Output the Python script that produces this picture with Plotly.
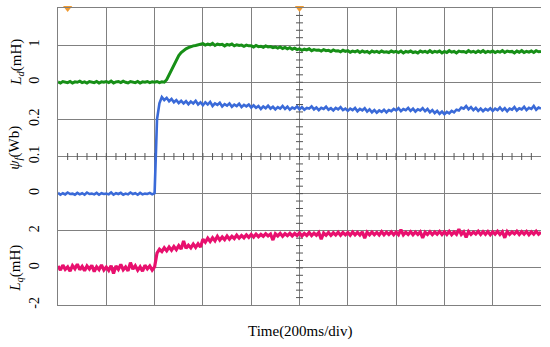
import plotly.graph_objects as go

# sample times in divisions (200 ms/div), 0.05 div spacing
N_DIV = 10
t = [round(i * 0.05, 2) for i in range(201)]

# L_d (mH)
ld = [0.01,-0.02,0.02,0.0,-0.01,0.02,-0.02,0.01,0.0,0.03,-0.01,0.01,-0.02,0.02,0.0,-0.01,0.02,-0.02,0.01,0.0,
      0.02,-0.01,0.03,-0.02,0.01,0.02,-0.01,0.03,0.0,-0.02,0.02,0.01,-0.01,0.02,-0.02,0.01,0.0,0.02,-0.01,0.01,
      0.0,0.02,-0.01,0.01,0.0,0.07,0.2,0.35,0.5,0.62,0.72,0.8,0.86,0.9,0.93,0.96,0.98,0.99,1.01,1.02,
      1.04,1.0,1.03,1.01,1.05,0.99,1.03,1.01,1.02,0.98,1.02,1.0,1.03,0.98,1.01,0.99,1.0,0.97,1.0,0.98,
      0.98,0.95,0.99,0.96,0.97,0.94,0.98,0.95,0.96,0.93,0.95,0.92,0.95,0.91,0.94,0.9,0.93,0.89,0.92,0.88,
      0.9,0.86,0.89,0.87,0.9,0.85,0.88,0.86,0.87,0.84,0.88,0.85,0.86,0.83,0.87,0.84,0.85,0.82,0.86,0.83,
      0.85,0.81,0.84,0.82,0.85,0.8,0.84,0.81,0.83,0.79,0.84,0.81,0.83,0.8,0.84,0.81,0.82,0.8,0.84,0.81,
      0.83,0.8,0.84,0.79,0.83,0.81,0.84,0.8,0.82,0.79,0.84,0.81,0.83,0.8,0.85,0.8,0.83,0.81,0.84,0.79,
      0.83,0.8,0.85,0.81,0.83,0.79,0.84,0.82,0.83,0.8,0.85,0.81,0.83,0.8,0.84,0.81,0.85,0.8,0.83,0.81,
      0.84,0.8,0.83,0.81,0.85,0.8,0.84,0.82,0.83,0.79,0.84,0.81,0.85,0.8,0.83,0.81,0.84,0.8,0.85,0.82,0.83]

# psi_f (Wb)
psi = [0.002,-0.003,0.001,-0.002,0.003,-0.001,0.0,-0.003,0.002,-0.002,0.001,-0.003,0.003,-0.001,0.0,-0.002,0.002,-0.003,0.001,-0.001,
       0.0,-0.002,0.003,-0.003,0.001,-0.001,0.002,-0.003,0.0,-0.002,0.003,-0.001,0.001,-0.003,0.002,-0.002,0.0,-0.001,0.002,-0.002,
       0.001,0.2,0.243,0.26,0.252,0.258,0.249,0.255,0.246,0.252,0.244,0.25,0.243,0.249,0.241,0.248,0.243,0.25,0.24,0.246,
       0.238,0.246,0.24,0.247,0.236,0.243,0.239,0.245,0.235,0.241,0.237,0.243,0.234,0.24,0.236,0.242,0.233,0.239,0.235,0.24,
       0.232,0.238,0.231,0.236,0.228,0.235,0.23,0.237,0.229,0.234,0.227,0.233,0.229,0.236,0.228,0.234,0.226,0.232,0.229,0.235,
       0.227,0.233,0.226,0.231,0.229,0.235,0.227,0.232,0.225,0.231,0.228,0.234,0.226,0.23,0.224,0.231,0.227,0.233,0.225,0.229,
       0.223,0.229,0.225,0.231,0.222,0.228,0.224,0.23,0.221,0.227,0.219,0.225,0.218,0.224,0.22,0.226,0.219,0.225,0.222,0.228,
       0.224,0.23,0.222,0.228,0.225,0.231,0.223,0.229,0.221,0.227,0.224,0.23,0.222,0.228,0.219,0.225,0.217,0.223,0.215,0.221,
       0.214,0.22,0.216,0.223,0.219,0.226,0.224,0.232,0.229,0.236,0.227,0.233,0.225,0.231,0.223,0.229,0.222,0.228,0.224,0.23,
       0.223,0.229,0.225,0.232,0.224,0.23,0.222,0.229,0.226,0.233,0.224,0.23,0.227,0.234,0.225,0.231,0.228,0.236,0.226,0.232,0.229]

# L_q (mH)
lq = [0.1,-0.12,0.15,-0.08,0.05,-0.18,0.12,-0.05,0.2,-0.1,0.08,-0.15,0.1,-0.06,0.14,-0.2,0.06,-0.09,0.16,-0.12,
      0.04,-0.14,0.12,-0.3,0.1,-0.08,0.18,-0.1,0.05,-0.16,0.28,-0.07,0.11,-0.13,0.06,-0.18,0.14,-0.05,0.1,-0.12,
      0.05,0.8,1.0,0.88,1.08,0.92,1.12,0.95,1.15,0.98,1.2,1.02,1.45,1.05,1.22,1.08,1.28,1.1,1.3,1.12,
      1.55,1.38,1.6,1.42,1.62,1.46,1.7,1.5,1.66,1.52,1.72,1.55,1.7,1.58,1.76,1.6,1.74,1.62,1.78,1.64,
      1.8,1.66,1.82,1.68,1.8,1.7,1.84,1.72,1.82,1.5,1.84,1.72,1.86,1.7,1.84,1.74,1.86,1.72,1.85,1.74,
      1.88,1.72,1.86,1.75,1.9,1.74,1.87,1.76,1.9,1.55,1.88,1.76,1.91,1.75,1.89,1.77,1.92,1.76,1.9,1.78,
      1.9,1.76,1.93,1.78,1.91,1.77,1.94,1.6,1.92,1.78,1.93,1.79,1.91,1.77,1.95,1.78,1.92,1.8,1.94,1.78,
      1.93,1.79,2.05,1.78,1.92,1.8,1.95,1.78,1.93,1.8,1.94,1.62,1.92,1.8,1.95,1.79,1.93,1.81,1.96,1.8,
      1.94,1.8,1.97,1.79,1.93,1.81,2.08,1.8,1.94,1.64,1.96,1.8,1.93,1.82,1.97,1.8,1.95,1.81,1.96,1.79,
      1.94,1.82,1.97,1.8,1.95,1.62,1.96,1.81,1.94,1.83,1.97,1.8,1.95,1.82,1.96,1.79,1.94,1.82,1.97,1.81,1.92]

# axis settings: ranges chosen so each channel's zero sits on its grid line
N_VDIV = 8
ld_range = [-6, 2]
psi_range = [-0.3, 0.5]
lq_range = [-2, 14]
ld_ticks, ld_text = [0, 1], ["0", "1"]
psi_ticks, psi_text = [0, 0.1, 0.2], ["0", "0.1", "0.2"]
lq_ticks, lq_text = [-2, 0, 2], ["-2", "0", "2"]

trigger_t = [0.2, 5.0]

FONT = "Liberation Serif"
GRID = "#808080"

fig = go.Figure()

fig.add_trace(go.Scatter(x=t, y=ld, mode="lines", line=dict(color="#178f17", width=3), yaxis="y2"))
fig.add_trace(go.Scatter(x=t, y=psi, mode="lines", line=dict(color="#3a6ad8", width=2.6), yaxis="y3"))
fig.add_trace(go.Scatter(x=t, y=lq, mode="lines", line=dict(color="#e8106e", width=3.2), yaxis="y4"))

# minor ticks on centre cross-hair
sub = [round(k * 0.2, 1) for k in range(1, N_DIV * 5)]
fig.add_trace(go.Scatter(x=sub, y=[N_VDIV / 2] * len(sub), mode="markers",
                         marker=dict(symbol="line-ns", size=5, line=dict(color="#555555", width=1)),
                         yaxis="y"))
subv = [round(k * 0.2, 1) for k in range(1, N_VDIV * 5)]
fig.add_trace(go.Scatter(x=[N_DIV / 2] * len(subv), y=subv, mode="markers",
                         marker=dict(symbol="line-ew", size=5, line=dict(color="#555555", width=1)),
                         yaxis="y"))
# trigger markers
fig.add_trace(go.Scatter(x=trigger_t, y=[N_VDIV] * len(trigger_t), mode="markers",
                         marker=dict(symbol="triangle-down", size=8, color="#f09a30"),
                         yaxis="y", cliponaxis=False))

common_y = dict(overlaying="y", side="left", showgrid=False, zeroline=False, ticks="",
                tickangle=-90, tickfont=dict(family=FONT, size=14, color="black"),
                ticklabelstandoff=15, showline=False, automargin=False)

fig.update_layout(
    width=550, height=347,
    margin=dict(l=58, r=9, t=8, b=42),
    paper_bgcolor="white", plot_bgcolor="white",
    showlegend=False,
    xaxis=dict(range=[0, N_DIV], tickvals=list(range(1, N_DIV)), showticklabels=False,
               showgrid=True, gridcolor=GRID, gridwidth=1, zeroline=False, ticks="",
               showline=True, mirror=True, linecolor=GRID, linewidth=1, automargin=False),
    yaxis=dict(range=[0, N_VDIV], tickvals=list(range(1, N_VDIV)), showticklabels=False,
               showgrid=True, gridcolor=GRID, gridwidth=1, zeroline=False, ticks="",
               showline=True, linecolor=GRID, linewidth=1, automargin=False),
    yaxis2=dict(range=ld_range, tickvals=ld_ticks, ticktext=ld_text, **common_y),
    yaxis3=dict(range=psi_range, tickvals=psi_ticks, ticktext=psi_text, **common_y),
    yaxis4=dict(range=lq_range, tickvals=lq_ticks, ticktext=lq_text, **common_y),
)

title_font = dict(family=FONT, size=15, color="black")
fig.add_annotation(text="<i>L</i><sub><i>d</i></sub>(mH)", xref="paper", yref="y2", x=-0.085, y=0.55,
                   textangle=-90, showarrow=False, font=title_font, xanchor="center", yanchor="middle")
fig.add_annotation(text="<i>ψ</i><sub><i>f</i></sub>(Wb)", xref="paper", yref="y3", x=-0.088, y=0.125,
                   textangle=-90, showarrow=False, font=title_font, xanchor="center", yanchor="middle")
fig.add_annotation(text="<i>L</i><sub><i>q</i></sub>(mH)", xref="paper", yref="y4", x=-0.087, y=0.0,
                   textangle=-90, showarrow=False, font=title_font, xanchor="center", yanchor="middle")
fig.add_annotation(text="Time(200ms/div)", xref="paper", yref="paper", x=0.5, y=-0.088,
                   showarrow=False, font=title_font, xanchor="center", yanchor="middle")

fig.write_html("out.html", config={"displayModeBar": False},
               post_script="document.body.style.margin='0';")
